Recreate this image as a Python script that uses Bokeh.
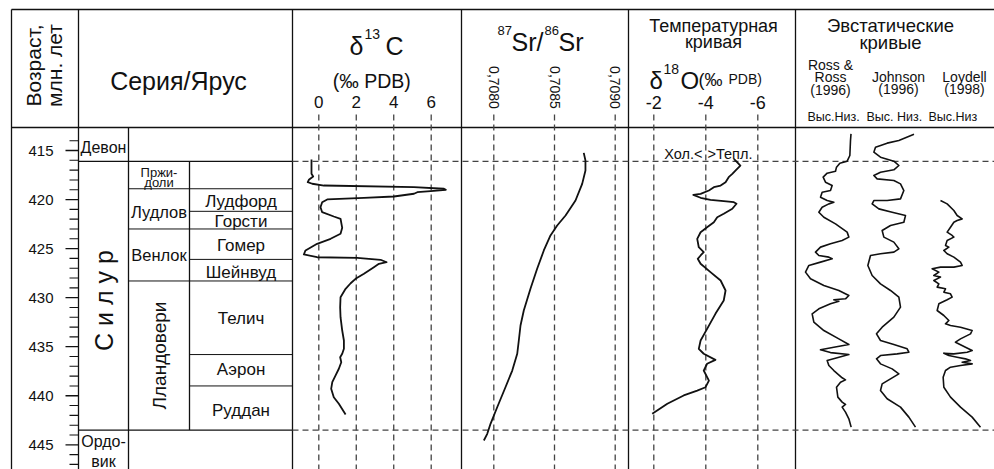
import numpy as np
from bokeh.plotting import figure
from bokeh.models import Range1d
from bokeh.core.properties import value
from bokeh.embed import file_html
from bokeh.resources import INLINE

# ---------------- data ----------------
age_major = [415, 420, 425, 430, 435, 440, 445]
age_major_labels = ["415", "420", "425", "430", "435", "440", "445"]
age_minor = [a for a in range(414, 448) if a not in age_major]

period_bounds = [416.1, 443.5]          # Devon/Silur, Silur/Ordovician
series_bounds = [418.9, 423.0, 428.3]   # Pridoli/Ludlow, Ludlow/Wenlock, Wenlock/Llandovery
stage_bounds = [421.2, 426.1, 435.8, 439.0]

system_names = ["Девон", "Ордо-", "вик"]
system_ages = [414.7, 444.65, 446.7]
silur_name = "С и л у р"
silur_age = 430.3
series_names = ["Пржи-", "доли", "Лудлов", "Венлок"]
series_ages = [417.2, 418.25, 421.25, 425.7]
series_sizes = [13, 13, 16.5, 16.5]
llandovery_name = "Лландовери"
llandovery_age = 435.9
stage_names = ["Лудфорд", "Горсти", "Гомер", "Шейнвуд", "Телич", "Аэрон", "Руддан"]
stage_ages = [420.2, 422.2, 424.7, 427.4, 432.1, 437.3, 441.5]

c13_ticks = [0, 2, 4, 6]
c13_tick_labels = ["0", "2", "4", "6"]
sr_ticks = [0.7080, 0.7085, 0.7090]
sr_tick_labels = ["0,7080", "0,7085", "0,7090"]
o18_ticks = [-2, -4, -6]
o18_tick_labels = ["-2", "-4", "-6"]

c13_age = [415.92, 417.38, 417.65, 417.99, 418.23, 418.39, 418.57, 418.74, 418.90, 419.01,
           419.15, 419.25, 419.41, 419.69, 419.82, 419.99, 420.27, 420.78, 421.29, 421.73,
           421.96, 422.88, 423.49, 424.00, 424.51, 425.19, 425.60, 425.88, 425.94, 426.14,
           426.39, 426.55, 426.90, 427.57, 428.08, 428.53, 429.10, 429.95, 430.97, 431.99,
           433.35, 434.37, 435.21, 435.72, 436.07, 436.58, 437.25, 437.94, 438.62, 439.29,
           440.15, 440.82, 441.91]
c13_val = [-0.39, -0.39, -0.30, -0.53, -0.59, -0.35, 0.27, 5.08, 6.68, 6.78,
           5.97, 5.26, 5.08, 4.01, 2.41, 0.45, 0.18, 0.09, 0.18, 0.80,
           1.16, 1.25, 1.16, 0.63, -0.09, -0.71, -0.80, -0.09, 2.05, 3.30,
           3.62, 3.21, 2.94, 2.41, 1.96, 1.70, 1.43, 1.16, 1.14, 1.16,
           1.25, 1.34, 1.34, 1.25, 1.14, 1.20, 1.07, 0.89, 0.72, 0.66,
           0.80, 1.07, 1.43]

sr_age = [415.24, 416.02, 417.04, 418.40, 420.10, 421.63, 422.65, 423.66, 425.19, 427.06,
          429.10, 431.31, 432.84, 434.37, 435.72, 437.43, 439.13, 441.17, 442.86, 443.88, 444.56]
sr_val = [0.708741, 0.708755, 0.708755, 0.708728, 0.708673, 0.708591, 0.708522, 0.708467,
          0.708412, 0.708357, 0.708302, 0.708247, 0.708220, 0.708206, 0.708193, 0.708152,
          0.708096, 0.708028, 0.707973, 0.707946, 0.707918]

o18_age = [415.85, 416.53, 417.04, 417.38, 417.72, 418.23, 418.57, 418.74, 419.08, 419.42,
           419.52, 419.82, 420.03, 420.17, 420.27, 420.43, 420.94, 421.45, 421.80, 422.31,
           422.82, 423.33, 424.00, 424.86, 425.37, 425.70, 426.04, 426.55, 427.40, 428.25,
           429.27, 430.29, 431.65, 433.18, 434.37, 435.22, 435.72, 436.34, 436.74, 437.43,
           438.45, 439.13, 439.47, 439.97, 440.82, 441.84]
o18_val = [-5.08, -5.33, -5.14, -5.02, -4.88, -4.76, -4.57, -4.31, -4.12, -3.80,
           -3.52, -3.80, -4.18, -4.69, -5.08, -5.18, -5.02, -4.69, -4.44, -4.31,
           -4.05, -3.80, -3.67, -3.73, -3.92, -3.80, -3.69, -3.80, -4.18, -4.57,
           -4.76, -4.69, -4.37, -4.05, -3.80, -3.73, -3.92, -4.37, -4.05, -3.92,
           -4.12, -3.99, -3.67, -3.15, -2.52, -1.94]

ross_age = [413.30, 413.98, 415.51, 416.09, 416.29, 416.70, 417.11, 417.31, 417.72, 418.23, 418.57,
            419.08, 419.25, 419.76, 420.10, 420.27, 420.44, 420.78, 421.29, 421.80, 422.48,
            423.32, 423.83, 424.17, 424.51, 424.85, 425.36, 425.70, 425.87, 426.04, 426.38,
            426.72, 427.40, 428.08, 428.76, 429.27, 429.78, 430.12, 430.22, 430.36, 430.63,
            431.14, 431.65, 432.50, 433.35, 434.20, 434.78, 435.05, 435.32, 435.60, 435.80,
            436.13, 436.41, 436.92, 437.43, 438.17, 438.38, 438.62, 439.13, 440.14, 440.65,
            440.89, 441.16, 441.67, 442.35, 443.20]
ross_val = [10.1, 10.0, 9.87, 9.33, 7.87, 7.2, 7.0, 5.33, 4.53, 5.0, 6.33,
            6.0, 4.33, 4.0, 5.33, 6.67, 5.67, 4.33, 3.67, 4.67, 7.0,
            9.33, 9.67, 8.33, 6.0, 4.0, 3.0, 3.67, 5.67, 6.33, 4.0,
            1.67, 1.0, 2.0, 4.67, 7.67, 9.67, 9.0, 6.67, 7.67, 6.0,
            3.67, 2.33, 2.67, 4.67, 7.67, 9.67, 6.67, 4.0, 6.0, 9.67,
            7.33, 5.33, 5.67, 6.67, 8.33, 9.0, 8.0, 7.2, 7.47, 8.33,
            9.0, 8.33, 9.0, 9.67, 10.13]

john_age = [413.35, 413.98, 414.25, 414.66, 415.17, 415.68, 416.09, 416.53, 416.97, 417.21, 417.55,
            417.89, 418.06, 418.40, 419.08, 419.93, 420.10, 420.10, 420.44, 420.95, 421.29,
            421.63, 422.31, 422.65, 423.15, 423.83, 424.34, 425.02, 425.36, 425.53, 425.70,
            426.72, 427.74, 428.59, 429.27, 429.95, 430.97, 431.99, 433.01, 433.69, 434.37,
            434.78, 435.22, 435.56, 435.73, 435.90, 436.24, 436.75, 437.26, 437.77, 438.28,
            438.79, 439.46, 440.31, 441.16, 442.18, 443.20]
john_val = [10.3, 7.27, 4.93, 2.6, 2.27, 3.6, 6.27, 7.27, 6.27, 3.6, 2.27,
            2.93, 6.27, 7.6, 8.27, 7.6, 4.93, 2.27, 1.93, 3.27, 5.93,
            8.6, 8.27, 5.6, 3.93, 4.27, 6.27, 7.27, 6.27, 3.6, 1.6,
            1.07, 1.93, 3.6, 5.6, 7.27, 7.6, 6.27, 3.93, 2.8, 3.6,
            6.27, 8.93, 9.27, 6.93, 3.6, 2.8, 3.6, 5.93, 7.27, 5.6,
            3.93, 3.6, 4.93, 7.6, 9.27, 10.6]

loyd_age = [420.10, 420.44, 421.12, 421.63, 421.97, 422.14, 422.31, 422.82, 423.32, 423.66,
            423.83, 424.17, 424.68, 424.85, 425.19, 425.53, 425.87, 426.38, 426.72, 426.89,
            426.89, 427.06, 427.40, 427.74, 427.91, 428.25, 428.59, 428.93, 429.10, 429.44,
            429.61, 429.95, 430.22, 430.63, 431.31, 431.82, 432.33, 432.67, 432.84, 433.01,
            433.35, 433.69, 434.20, 434.54, 435.05, 435.39, 435.56, 435.73, 435.66, 435.90,
            436.07, 436.24, 436.41, 436.58, 436.75, 436.92, 437.09, 437.43, 438.11, 439.13,
            440.14, 441.16, 442.18, 443.20]
loyd_val = [2.4, 3.73, 5.07, 5.73, 6.73, 5.73, 5.07, 4.4, 3.73, 4.73,
            5.07, 3.73, 3.4, 4.07, 3.07, 3.73, 5.07, 6.4, 6.73, 5.07,
            2.4, 0.73, 2.07, 1.07, 2.4, 1.07, 2.07, 1.73, 3.4, 3.07,
            4.4, 4.73, 3.73, 2.07, 1.73, 3.07, 4.07, 3.4, 4.4, 6.4,
            8.73, 8.4, 6.4, 5.4, 7.4, 8.73, 7.73, 5.07, 3.07, 4.07,
            5.73, 7.4, 8.4, 6.73, 8.73, 6.4, 4.4, 3.4, 2.93, 3.07,
            4.4, 6.4, 8.73, 10.4]

# ---------------- layout ----------------
FONT = "Liberation Sans"
W, H = 994, 469
PX0, PX1 = 0, 994          # page x covered by the canvas
PY0, PY1 = 0, 469          # page y covered by the canvas


def age_at(py):
    return 415 + (py - 150) / 9.81


def px_range(px_a, v_a, px_b, v_b):
    k = (v_b - v_a) / (px_b - px_a)
    return Range1d(start=v_a + (PX0 - px_a) * k, end=v_a + (PX1 - px_a) * k)


p = figure(width=W, height=H, x_range=Range1d(PX0, PX1),
           y_range=Range1d(start=age_at(PY1), end=age_at(PY0)),
           x_axis_type=None, y_axis_type=None, min_border=0,
           toolbar_location=None, output_backend="svg",
           outline_line_color=None, background_fill_color="white")
p.grid.visible = False
p.extra_y_ranges = {"hdr": Range1d(start=PY1, end=PY0)}
p.extra_x_ranges = {
    "c13": px_range(318.3, 0, 430.7, 6),
    "sr": px_range(493.3, 0.7080, 554.0, 0.7085),
    "o18": px_range(653.3, -2, 705.3, -4),
    "ross": px_range(800, 0, 850, 10),
    "john": px_range(862, 0, 912, 10),
    "loyd": px_range(928, 0, 978, 10),
}

LC = "#111111"
DC = "#444444"


def txt(x, y, s, size, align="center", baseline="middle", angle=0.0,
        xr="default", yr="default", color="#111111"):
    if not isinstance(x, (list, tuple)):
        x, y, s = [x], [y], [s]
    p.text(x=x, y=y, text=s, text_font=value(FONT), text_font_size=f"{size}px",
           text_align=align, text_baseline=baseline, angle=angle,
           x_range_name=xr, y_range_name=yr, text_color=color)


# frame lines (header coordinates)
p.segment(x0=[11, 11], y0=[9, 127], x1=[PX1, PX1], y1=[9, 127],
          y_range_name="hdr", line_color=LC, line_width=1.3)
vx = [11, 78, 292, 461, 628, 795]
p.segment(x0=vx, y0=[9] * len(vx), x1=vx, y1=[PY1] * len(vx),
          y_range_name="hdr", line_color=LC, line_width=1.3)
p.segment(x0=[128], y0=[127], x1=[128], y1=[PY1], y_range_name="hdr",
          line_color=LC, line_width=1.3)
p.segment(x0=[189], y0=[period_bounds[0]], x1=[189], y1=[period_bounds[1]],
          line_color=LC, line_width=1.3)

# stratigraphic boundaries
p.segment(x0=[78] * 2, y0=period_bounds, x1=[292] * 2, y1=period_bounds,
          line_color=LC, line_width=1.2)
p.segment(x0=[128] * 3, y0=series_bounds, x1=[292] * 3, y1=series_bounds,
          line_color=LC, line_width=1.0)
p.segment(x0=[189] * 4, y0=stage_bounds, x1=[292] * 4, y1=stage_bounds,
          line_color=LC, line_width=1.0)
p.segment(x0=[292] * 2, y0=period_bounds, x1=[PX1] * 2, y1=period_bounds,
          line_color=DC, line_width=1.3, line_dash="6 4")

# age ticks
p.segment(x0=[65] * len(age_major), y0=age_major, x1=[78] * len(age_major), y1=age_major,
          line_color=LC, line_width=1.3)
p.segment(x0=[69] * len(age_minor), y0=age_minor, x1=[78] * len(age_minor), y1=age_minor,
          line_color=LC, line_width=1.1)
txt([53] * len(age_major), age_major, age_major_labels, 15, align="right")

# vertical dashed gridlines in panels
for name, ticks in (("c13", c13_ticks), ("sr", sr_ticks), ("o18", o18_ticks)):
    p.segment(x0=ticks, y0=[114] * len(ticks), x1=ticks, y1=[PY1] * len(ticks),
              x_range_name=name, y_range_name="hdr", line_color=DC,
              line_width=1.3, line_dash="6 4")

# curves
p.line(c13_val, c13_age, x_range_name="c13", line_color=LC, line_width=1.8, line_join="round")
p.line(sr_val, sr_age, x_range_name="sr", line_color=LC, line_width=1.8, line_join="round")
p.line(o18_val, o18_age, x_range_name="o18", line_color=LC, line_width=1.8, line_join="round")
p.line(ross_val, ross_age, x_range_name="ross", line_color=LC, line_width=1.6, line_join="round")
p.line(john_val, john_age, x_range_name="john", line_color=LC, line_width=1.6, line_join="round")
p.line(loyd_val, loyd_age, x_range_name="loyd", line_color=LC, line_width=1.6, line_join="round")

# stratigraphic labels
txt([103] * len(system_names), system_ages, system_names, 16)
txt(103, silur_age, silur_name, 25, angle=np.pi / 2)
for s, a, fs in zip(series_names, series_ages, series_sizes):
    txt(158.5, a, s, fs)
txt(158.5, llandovery_age, llandovery_name, 19, angle=np.pi / 2)
txt([240.5] * len(stage_names), stage_ages, stage_names, 17)

# ---------------- header ----------------
txt(33, 65, "Возраст,", 21, angle=np.pi / 2, yr="hdr")
txt(54, 65, "млн. лет", 21, angle=np.pi / 2, yr="hdr")
txt(178, 80, "Серия/Ярус", 25, yr="hdr")

# delta 13 C
txt(349, 45, "δ", 25, align="left", baseline="alphabetic", yr="hdr")
txt(364, 33, "13", 14, align="left", baseline="alphabetic", yr="hdr")
txt(385, 45, "C", 25, align="left", baseline="alphabetic", yr="hdr")
txt(374, 80, "(‰  PDB)", 19.5, baseline="alphabetic", yr="hdr")
txt(c13_ticks, [101.5] * 4, c13_tick_labels, 17, xr="c13", yr="hdr")

# Sr
txt(497, 30, "87", 13, align="left", baseline="alphabetic", yr="hdr")
txt(511, 41.5, "Sr/", 25, align="left", baseline="alphabetic", yr="hdr")
txt(544, 30, "86", 13, align="left", baseline="alphabetic", yr="hdr")
txt(558, 41.5, "Sr", 25, align="left", baseline="alphabetic", yr="hdr")
txt(sr_ticks, [87] * 3, sr_tick_labels, 14, angle=-np.pi / 2, xr="sr", yr="hdr")

# delta 18 O
txt(713, 25, "Температурная", 18, yr="hdr")
txt(713, 41.5, "кривая", 18, yr="hdr")
txt(649, 80, "δ", 24, align="left", baseline="alphabetic", yr="hdr")
txt(663, 68, "18", 14, align="left", baseline="alphabetic", yr="hdr")
txt(680, 80, "O", 24, align="left", baseline="alphabetic", yr="hdr")
txt(698, 79, "(‰", 18, align="left", baseline="alphabetic", yr="hdr")
txt(728, 78, "PDB)", 14, align="left", baseline="alphabetic", yr="hdr")
txt(o18_ticks, [101.5] * 3, o18_tick_labels, 18, xr="o18", yr="hdr")
txt(702, 153, "Хол.<", 14.5, align="right", yr="hdr")
txt(707, 153, ">Тепл.", 14.5, align="left", yr="hdr")

# eustatic
txt(890, 25, "Эвстатические", 18.5, yr="hdr")
txt(890, 41.5, "кривые", 18.5, yr="hdr")
txt([830] * 3, [64, 76.5, 89], ["Ross &", "Ross", "(1996)"], 14, yr="hdr")
txt([898] * 2, [76, 88.5], ["Johnson", "(1996)"], 14, yr="hdr")
txt([964] * 2, [76, 88.5], ["Loydell", "(1998)"], 14, yr="hdr")
txt([807, 866, 928], [116.5] * 3, ["Выс.Низ.", "Выс. Низ.", "Выс.Низ"], 12.5,
    align="left", yr="hdr")

open("out.html", "w").write(file_html(p, INLINE))
